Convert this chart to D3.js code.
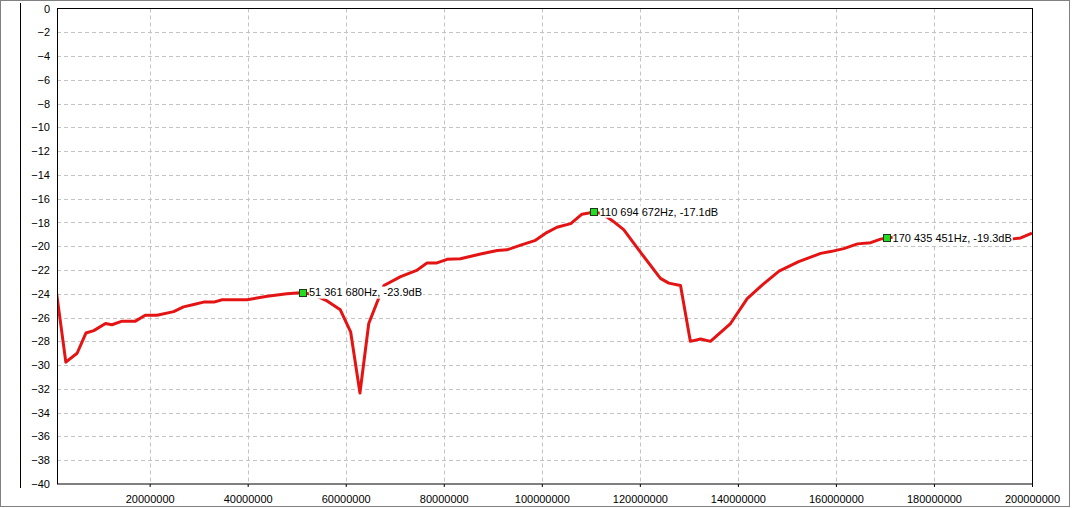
<!DOCTYPE html>
<html>
<head>
<meta charset="utf-8">
<script src="https://cdn.jsdelivr.net/npm/d3@7"></script>
<style>
  body { margin: 0; background: #fff; }
  svg { display: block; font-family: "Liberation Sans", Arial, sans-serif; }
</style>
</head>
<body>
<svg id="chart"></svg>
<script>
// sweep data (Hz / dB)
const freqs = [
  1.0e6, 2.9e6, 5.2e6, 7.0e6, 8.6e6, 11.0e6, 12.3e6, 14.4e6, 17.1e6, 19.1e6,
  21.5e6, 24.9e6, 26.9e6, 29.0e6, 31.0e6, 33.1e6, 34.8e6, 39.9e6, 44.0e6, 48.0e6,
  51.36e6, 53.5e6, 56.2e6, 58.9e6, 61.0e6, 62.9e6, 64.7e6, 66.5e6, 67.8e6, 71.2e6,
  74.6e6, 76.6e6, 78.6e6, 80.7e6, 83.4e6, 87.5e6, 90.9e6, 92.9e6, 95.7e6, 98.7e6,
  100.8e6, 103.1e6, 105.9e6, 108.2e6, 109.6e6, 110.69e6, 112.5e6, 114.4e6, 116.7e6, 120.5e6,
  124.2e6, 125.9e6, 128.3e6, 130.3e6, 132.4e6, 134.4e6, 138.5e6, 141.9e6, 145.0e6, 148.4e6,
  152.4e6, 156.9e6, 158.9e6, 161.6e6, 164.4e6, 167.1e6, 169.1e6, 170.44e6, 175e6, 180e6,
  185e6, 190e6, 195.7e6, 197.7e6, 200e6
];
const levels = [
  -23.9, -29.75, -29.0, -27.3, -27.1, -26.5, -26.6, -26.3, -26.3, -25.8,
  -25.8, -25.5, -25.1, -24.9, -24.7, -24.7, -24.5, -24.5, -24.2, -24.0,
  -23.9, -24.1, -24.6, -25.35, -27.2, -32.35, -26.5, -24.6, -23.3, -22.55,
  -22.0, -21.4, -21.4, -21.1, -21.05, -20.65, -20.35, -20.3, -19.9, -19.5,
  -18.9, -18.4, -18.1, -17.3, -17.2, -17.1, -17.3, -17.85, -18.6, -20.7,
  -22.7, -23.1, -23.3, -28.0, -27.8, -28.0, -26.5, -24.4, -23.25, -22.1,
  -21.3, -20.6, -20.45, -20.2, -19.8, -19.7, -19.4, -19.3, -19.1, -19.2,
  -19.3, -19.4, -19.4, -19.3, -18.9
];

// markers
const markerFreqs = [51361680, 110694672, 170435451];
const markerLevels = [-23.9, -17.1, -19.3];

const xTicks = [20000000, 40000000, 60000000, 80000000, 100000000, 120000000, 140000000, 160000000, 180000000, 200000000];
const yTicks = [0, -2, -4, -6, -8, -10, -12, -14, -16, -18, -20, -22, -24, -26, -28, -30, -32, -34, -36, -38, -40];

const width = 1072, height = 508;
const margin = { top: 8.5, right: 40, bottom: 24, left: 57 };

const svg = d3.select("#chart").attr("width", width).attr("height", height);

// dotted outer border + vertical separator
svg.append("rect")
  .attr("x", 0.5).attr("y", 0.5)
  .attr("width", width - 3).attr("height", height - 2)
  .attr("fill", "none").attr("stroke", "#000")
  .attr("stroke-dasharray", "1,1");
svg.append("line")
  .attr("x1", 20.5).attr("x2", 20.5)
  .attr("y1", 3).attr("y2", 488)
  .attr("stroke", "#000");

const x = d3.scaleLinear()
  .domain([1.1e6, 200e6])
  .range([margin.left, width - margin.right]);

const y = d3.scaleLinear()
  .domain([-40, 0])
  .range([height - margin.bottom, margin.top]);

const plotW = x.range()[1] - x.range()[0];
const plotH = y.range()[0] - y.range()[1];

// grid
const grid = svg.append("g").attr("stroke", "#c4c4c4").attr("stroke-dasharray", "4,3");
grid.selectAll(".gx").data(xTicks).join("line")
  .attr("x1", d => Math.round(x(d)) + 0.5).attr("x2", d => Math.round(x(d)) + 0.5)
  .attr("y1", y(0)).attr("y2", y(-40));
grid.selectAll(".gy").data(yTicks.slice(1, -1)).join("line")
  .attr("y1", d => Math.round(y(d)) + 0.5).attr("y2", d => Math.round(y(d)) + 0.5)
  .attr("x1", x.range()[0]).attr("x2", x.range()[1]);

// trace
svg.append("defs").append("clipPath").attr("id", "clip")
  .append("rect")
  .attr("x", x.range()[0]).attr("y", y.range()[1])
  .attr("width", plotW).attr("height", plotH);

const pts = freqs.map((f, i) => [f, levels[i]]);
svg.append("path")
  .datum(pts)
  .attr("clip-path", "url(#clip)")
  .attr("fill", "none")
  .attr("stroke", "#e41414")
  .attr("stroke-width", 3)
  .attr("stroke-linejoin", "round")
  .attr("d", d3.line().x(d => x(d[0])).y(d => y(d[1])));

// marker labels with white boxes
const fmtHz = f => d3.format(",")(f).replace(/,/g, " ") + "Hz, " + markerLevels[markerFreqs.indexOf(f)].toFixed(1) + "dB";
const mk = svg.append("g");
markerFreqs.forEach((f, i) => {
  const cx = x(f), cy = y(markerLevels[i]);
  const t = mk.append("text")
    .attr("x", cx + 5.5).attr("y", cy)
    .attr("dy", "0.35em")
    .attr("font-size", 11)
    .attr("fill", "#000")
    .text(fmtHz(f));
  const bb = t.node().getBBox();
  mk.insert("rect", "text")
    .attr("x", bb.x).attr("y", cy - 6)
    .attr("width", bb.width + 1).attr("height", 12)
    .attr("fill", "#fff");
  mk.append("rect")
    .attr("x", Math.round(cx) - 3.5).attr("y", Math.round(cy) - 3.5)
    .attr("width", 7).attr("height", 7)
    .attr("fill", "#22dd22").attr("stroke", "#1a3a1a");
});

// frame
svg.append("rect")
  .attr("x", x.range()[0] + 0.5).attr("y", y.range()[1])
  .attr("width", plotW).attr("height", plotH)
  .attr("fill", "none").attr("stroke", "#000");

// axes
svg.append("g")
  .attr("transform", "translate(0," + y.range()[0] + ")")
  .call(d3.axisBottom(x).tickValues(xTicks).tickSize(3).tickPadding(8).tickFormat(d3.format("d")))
  .call(g => g.select(".domain").remove())
  .call(g => g.selectAll("text").attr("font-size", 11).attr("fill", "#000").attr("font-family", null));

svg.append("g")
  .attr("transform", "translate(" + x.range()[0] + ",0)")
  .call(d3.axisLeft(y).tickValues(yTicks).tickSize(0).tickPadding(7))
  .call(g => g.select(".domain").remove())
  .call(g => g.selectAll("text").attr("font-size", 11).attr("fill", "#000").attr("font-family", null));
</script>
</body>
</html>
